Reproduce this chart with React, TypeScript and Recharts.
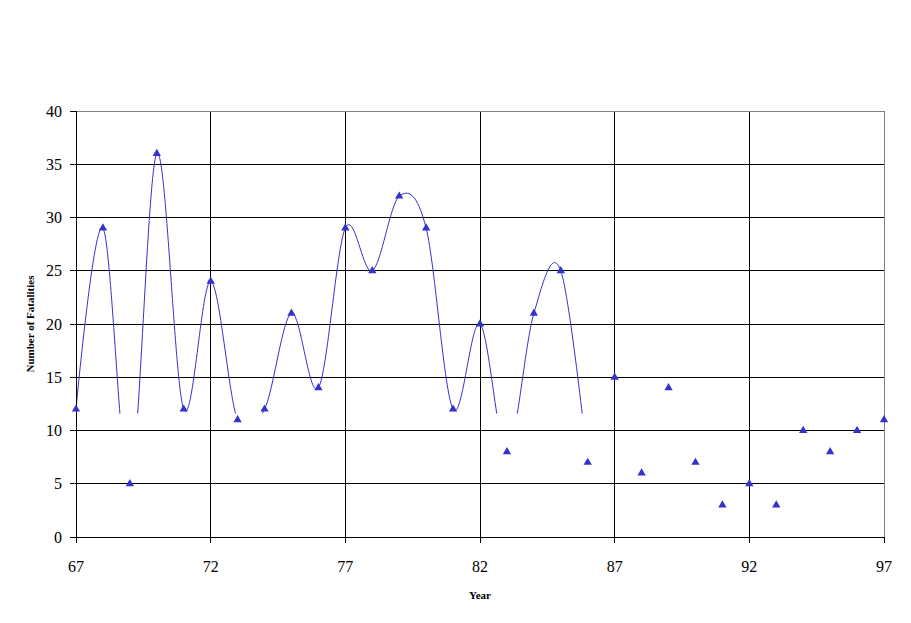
import { ComposedChart, Line, XAxis, YAxis, CartesianGrid, ReferenceArea, ReferenceLine, Symbols, Label } from 'recharts'

const years = [67, 68, 69, 70, 71, 72, 73, 74, 75, 76, 77, 78, 79, 80, 81, 82, 83, 84, 85, 86, 87, 88, 89, 90, 91, 92, 93, 94, 95, 96, 97]
const fatalities = [12, 29, 5, 36, 12, 24, 11, 12, 21, 14, 29, 25, 32, 29, 12, 20, 8, 21, 25, 7, 15, 6, 14, 7, 3, 5, 3, 10, 8, 10, 11]
const xTicks = [67, 72, 77, 82, 87, 92, 97]
const yTicks = [0, 5, 10, 15, 20, 25, 30, 35, 40]

// the smoothed curve only covers the early years and is cut off below this value
const curveLastYear = 86
const curveFloor = 11.6

const data = years.map((year, i) => ({
  year,
  fatalities: fatalities[i],
  smooth: year <= curveLastYear ? fatalities[i] : null
}))

const BLUE = '#3333cc'
const FONT = '"Liberation Serif", "Times New Roman", serif'

// catmull-rom style smoothing, close to what excel does for "smoothed line"
const smoothCurve = (context: any) => {
  let x0 = NaN, y0 = NaN, x1 = NaN, y1 = NaN, x2 = NaN, y2 = NaN
  let n = 0
  let line = NaN
  const k = 1 / 6
  const seg = (x: number, y: number) => {
    context.bezierCurveTo(x1 + k * (x2 - x0), y1 + k * (y2 - y0), x2 + k * (x1 - x), y2 + k * (y1 - y), x2, y2)
  }
  return {
    areaStart() { line = 0 },
    areaEnd() { line = NaN },
    lineStart() {
      x0 = x1 = x2 = y0 = y1 = y2 = NaN
      n = 0
    },
    lineEnd() {
      if (n === 2) context.lineTo(x2, y2)
      else if (n === 3) seg(x1, y1)
      if (line || (line !== 0 && n === 1)) context.closePath()
      line = 1 - line
    },
    point(x: number, y: number) {
      x = +x
      y = +y
      if (n === 0) {
        n = 1
        line ? context.lineTo(x, y) : context.moveTo(x, y)
      } else if (n === 1) {
        n = 2
        x1 = x
        y1 = y
      } else {
        n = 3
        seg(x, y)
      }
      x0 = x1; x1 = x2; x2 = x
      y0 = y1; y1 = y2; y2 = y
    }
  }
}

const Triangle = (props: any) => {
  const { cx, cy } = props
  if (cx == null || cy == null) return null
  return <Symbols type="triangle" size={30} cx={cx} cy={cy} fill={BLUE} stroke="none" />
}

const ClipShape = (props: any) => (
  <defs>
    <clipPath id="curveClip">
      <rect x={props.x} y={props.y} width={props.width} height={props.height} />
    </clipPath>
  </defs>
)

const css = `
.smooth-curve { clip-path: url(#curveClip); }
.recharts-cartesian-grid line,
.recharts-cartesian-axis-line,
.recharts-cartesian-axis-tick-line,
.recharts-reference-line-line { shape-rendering: crispEdges; }
`

const App = () => {
  return (
    <div style={{ position: 'absolute', left: 0, top: 0, width: 911, height: 623, background: '#fff' }}>
      <style>{css}</style>
      <ComposedChart width={911} height={623} data={data} margin={{ top: 111, right: 27, left: 0, bottom: 0 }}>
        <CartesianGrid stroke="#000" strokeWidth={1} />
        <XAxis
          dataKey="year"
          type="number"
          domain={[67, 97]}
          ticks={xTicks}
          height={86}
          tickSize={6}
          tickMargin={18}
          stroke="#000"
          tick={{ fill: '#000', fontSize: 16, fontFamily: FONT }}
        >
          <Label value="Year" position="insideBottom" offset={24} style={{ fontFamily: FONT, fontSize: 11, fontWeight: 'bold', fill: '#000' }} />
        </XAxis>
        <YAxis
          type="number"
          domain={[0, 40]}
          ticks={yTicks}
          width={76}
          tickSize={6}
          tickMargin={8}
          stroke="#000"
          tick={{ fill: '#000', fontSize: 16, fontFamily: FONT }}
        >
          <Label
            value="Number of Fatalities"
            angle={-90}
            position="insideLeft"
            offset={30}
            style={{ fontFamily: FONT, fontSize: 11, fontWeight: 'bold', fill: '#000', textAnchor: 'middle' }}
          />
        </YAxis>
        <ReferenceLine y={40} stroke="#808080" />
        <ReferenceLine x={97} stroke="#808080" />
        <ReferenceArea y1={curveFloor} y2={40} shape={ClipShape} />
        <Line
          className="smooth-curve"
          dataKey="smooth"
          type={smoothCurve as any}
          stroke={BLUE}
          strokeWidth={1}
          dot={false}
          activeDot={false}
          isAnimationActive={false}
        />
        <Line
          dataKey="fatalities"
          stroke="none"
          dot={<Triangle />}
          activeDot={false}
          isAnimationActive={false}
        />
      </ComposedChart>
    </div>
  )
}

export default App
